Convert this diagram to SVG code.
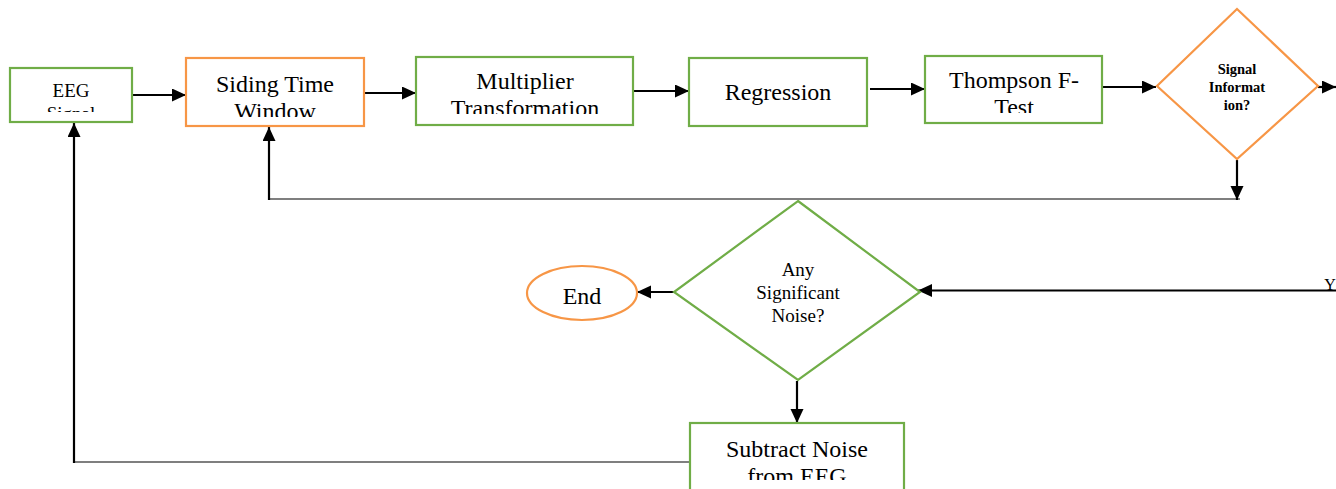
<svg xmlns="http://www.w3.org/2000/svg" width="1336" height="489" viewBox="0 0 1336 489">
<style>
  .box { fill: #fff; stroke-width: 2.2; }
  .g { stroke: #70AD47; }
  .o { stroke: #F79646; }
  .t { font-family: "Liberation Serif", "Times New Roman", serif; fill: #000; text-anchor: middle; }
  .arr { stroke: #000; stroke-width: 2.2; fill: none; marker-end: url(#ah); }
  .thin { stroke: #000; stroke-width: 1.2; fill: none; }
</style>
<defs>
  <marker id="ah" markerUnits="userSpaceOnUse" markerWidth="15" markerHeight="14" refX="14" refY="6.5" orient="auto">
    <path d="M0,0 L14,6.5 L0,13 z" fill="#000"/>
  </marker>
  <clipPath id="cEEG"><rect x="10" y="68" width="122" height="44"/></clipPath>
  <clipPath id="cSid"><rect x="186" y="58" width="178" height="59"/></clipPath>
  <clipPath id="cMul"><rect x="416" y="57" width="217" height="57"/></clipPath>
  <clipPath id="cTho"><rect x="925" y="56" width="177" height="57"/></clipPath>
  <clipPath id="cSub"><rect x="690" y="423" width="214" height="57"/></clipPath>
</defs>
<rect width="1336" height="489" fill="#fff"/>

<g id="connectors">
  <line class="arr" x1="132" y1="95" x2="186" y2="95"/>
  <line class="arr" x1="364" y1="93" x2="416" y2="93"/>
  <line class="arr" x1="633" y1="91" x2="689" y2="91"/>
  <line class="arr" x1="870" y1="89" x2="925" y2="89"/>
  <line class="arr" x1="1102" y1="87" x2="1156" y2="87"/>
  <line class="arr" x1="1318" y1="87" x2="1336" y2="87"/>
  <line class="arr" x1="1237" y1="160" x2="1237" y2="200"/>
  <line class="thin" x1="269" y1="199" x2="1240" y2="199"/>
  <line class="arr" x1="269" y1="200" x2="269" y2="127"/>
  <line class="arr" x1="1336" y1="290.5" x2="918" y2="290.5"/>
  <line class="arr" x1="674" y1="292" x2="637" y2="292"/>
  <line class="arr" x1="797" y1="381" x2="797" y2="423"/>
  <line class="thin" x1="74" y1="462" x2="690" y2="462"/>
  <line class="arr" x1="74" y1="463" x2="74" y2="123"/>
  <text class="t" x="1330" y="290" font-size="16" text-anchor="start">Y</text>
</g>

<g id="eeg-signal">
  <rect class="box g" x="10" y="68" width="122" height="54"/>
  <g clip-path="url(#cEEG)">
    <text class="t" x="71" y="97" font-size="19">EEG</text>
    <text class="t" x="71" y="120" font-size="19">Signal</text>
  </g>
</g>

<g id="siding-time-window">
  <rect class="box o" x="186" y="58" width="178" height="68"/>
  <g clip-path="url(#cSid)">
    <text class="t" x="275" y="92" font-size="24">Siding Time</text>
    <text class="t" x="275" y="119" font-size="24">Window</text>
  </g>
</g>

<g id="multiplier-transformation">
  <rect class="box g" x="416" y="57" width="217" height="68"/>
  <g clip-path="url(#cMul)">
    <text class="t" x="525" y="89" font-size="24">Multiplier</text>
    <text class="t" x="525" y="116" font-size="24">Transformation</text>
  </g>
</g>

<g id="regression">
  <rect class="box g" x="689" y="58" width="178" height="68"/>
  <text class="t" x="778" y="100" font-size="24">Regression</text>
</g>

<g id="thompson-f-test">
  <rect class="box g" x="925" y="56" width="177" height="67"/>
  <g clip-path="url(#cTho)">
    <text class="t" x="1014" y="88" font-size="24">Thompson F-</text>
    <text class="t" x="1014" y="115" font-size="24">Test</text>
  </g>
</g>

<g id="signal-information">
  <polygon class="box o" points="1237,9 1318,86 1237,159 1157,86"/>
  <text class="t" x="1237" y="74" font-size="14.5" font-weight="bold">Signal</text>
  <text class="t" x="1237" y="92" font-size="14.5" font-weight="bold">Informat</text>
  <text class="t" x="1237" y="110" font-size="14.5" font-weight="bold">ion?</text>
</g>

<g id="any-significant-noise">
  <polygon class="box g" points="798,201 920,292 798,380 674,292"/>
  <text class="t" x="798" y="276" font-size="19">Any</text>
  <text class="t" x="798" y="299" font-size="19">Significant</text>
  <text class="t" x="798" y="322" font-size="19">Noise?</text>
</g>

<g id="end">
  <ellipse class="box o" cx="582" cy="293" rx="55" ry="27"/>
  <text class="t" x="582" y="304" font-size="24">End</text>
</g>

<g id="subtract-noise">
  <rect class="box g" x="690" y="423" width="214" height="80"/>
  <g clip-path="url(#cSub)">
    <text class="t" x="797" y="457" font-size="24">Subtract Noise</text>
    <text class="t" x="797" y="484" font-size="24">from EEG</text>
  </g>
</g>
</svg>
